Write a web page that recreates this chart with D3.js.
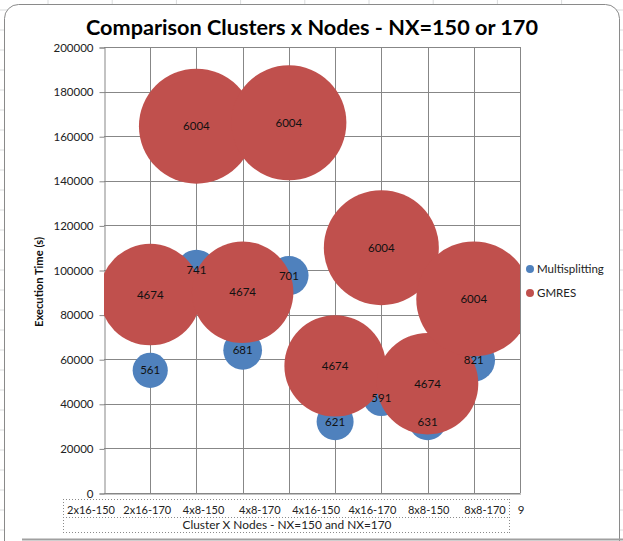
<!DOCTYPE html>
<html><head><meta charset="utf-8">
<script src="https://cdn.jsdelivr.net/npm/d3@7"></script>
<style>
body{margin:0;background:#fff;}
svg{display:block;}
text{font-family:Lato,"Open Sans",sans-serif;}
</style></head>
<body>
<svg id="chart" width="623" height="541"></svg>
<script>
// ---- data ----
const xPositions = [1,2,3,4,5,6,7,8];
const categories = ["2x16-150","2x16-170","4x8-150","4x8-170","4x16-150","4x16-170","8x8-150","8x8-170"];
const multiTime = [55000,100000,64000,97500,32000,42600,32000,59500];
const multiSize = [561,741,681,701,621,591,631,821];
const gmresTime = [89000,164500,90000,166000,57000,110000,49000,87000];
const gmresSize = [4674,6004,4674,6004,4674,6004,4674,6004];
const yTicks = [0,20000,40000,60000,80000,100000,120000,140000,160000,180000,200000];
const xTicks = [0,1,2,3,4,5,6,7,8,9];
const xVisibleTickLabels = [9];
const seriesNames = ["Multisplitting","GMRES"];
const colors = ["#4F81BD","#C0504D"];

const svg = d3.select("#chart");

// spreadsheet background grid
const bg = svg.append("g");
for (let x = 48; x < 623; x += 64.2) bg.append("line").attr("x1",x).attr("x2",x).attr("y1",0).attr("y2",541).attr("stroke","#dadcdd");
for (let y = 10; y < 541; y += 20) bg.append("line").attr("x1",0).attr("x2",623).attr("y1",y).attr("y2",y).attr("stroke","#dadcdd");

// chart area
svg.append("rect").attr("x",4.5).attr("y",4.5).attr("width",615).attr("height",560).attr("rx",14)
  .attr("fill","#fff").attr("stroke","#8a8a8a");
svg.append("line").attr("x1",22).attr("x2",623).attr("y1",539.5).attr("y2",539.5).attr("stroke","#a0a0a0").attr("stroke-width",2);

const x = d3.scaleLinear().domain([0,9]).range([104,520]);
const y = d3.scaleLinear().domain([0,200000]).range([493,47]);
const r = d3.scaleSqrt().domain([0,6004]).range([0,57.5]);

// gridlines
const grid = svg.append("g").attr("stroke","#878787").attr("stroke-width",1);
yTicks.forEach(t => grid.append("line").attr("x1",x(0)).attr("x2",x(9)).attr("y1",Math.round(y(t))+0.5).attr("y2",Math.round(y(t))+0.5));
xTicks.slice(1).forEach(t => grid.append("line").attr("x1",Math.round(x(t))+0.5).attr("x2",Math.round(x(t))+0.5).attr("y1",y(200000)).attr("y2",y(0)));

// axes
const yAxis = svg.append("g").attr("transform",`translate(${Math.round(x(0))+0.5},0.5)`)
  .call(d3.axisLeft(y).tickValues(yTicks).tickSize(5).tickPadding(6).tickFormat(d3.format("d")));
yAxis.select(".domain").attr("stroke","#878787");
yAxis.selectAll(".tick line").attr("stroke","#878787");
yAxis.selectAll("text").attr("font-size",11.5).attr("fill","#222").attr("font-family","Lato");

const xAxis = svg.append("g").attr("transform",`translate(0.5,${Math.round(y(0))+0.5})`)
  .call(d3.axisBottom(x).tickValues(xVisibleTickLabels).tickSize(0).tickPadding(12).tickFormat(d3.format("d")));
xAxis.select(".domain").attr("stroke","#878787");
xAxis.selectAll("text").attr("font-size",11.5).attr("fill","#222").attr("font-family","Lato");

// bubbles
svg.append("clipPath").attr("id","plotclip").append("rect")
  .attr("x",x(0)).attr("y",y(200000)).attr("width",x(9)-x(0)).attr("height",y(0)-y(200000));
const plot = svg.append("g").attr("clip-path","url(#plotclip)");
const series = [
  xPositions.map((p,i)=>({x:p,y:multiTime[i],s:multiSize[i]})),
  xPositions.map((p,i)=>({x:p,y:gmresTime[i],s:gmresSize[i]}))
];
series.forEach((d,k)=>{
  plot.selectAll(null).data(d).enter().append("circle")
    .attr("cx",v=>x(v.x)).attr("cy",v=>y(v.y)).attr("r",v=>r(v.s)).attr("fill",colors[k]);
});
series.forEach(d=>{
  svg.selectAll(null).data(d).enter().append("text")
    .attr("x",v=>x(v.x)).attr("y",v=>y(v.y)).attr("dy","0.35em").attr("text-anchor","middle")
    .attr("font-size",11.5).attr("fill","#111").text(v=>v.s);
});

// text box with category labels
const tb = svg.append("g");
tb.append("rect").attr("x",63).attr("y",499).attr("width",447).attr("height",34).attr("fill","#fff");
[[63,499.5,510,499.5],[63,517.5,510,517.5],[63,532.5,510,532.5],[63.5,499,63.5,533],[509.5,499,509.5,533]].forEach(l=>{
  tb.append("line").attr("x1",l[0]).attr("y1",l[1]).attr("x2",l[2]).attr("y2",l[3]).attr("stroke","#8a8a8a").attr("stroke-dasharray","1,2");
});
const cx = d3.scalePoint().domain(categories).range([91,485]);
tb.selectAll(null).data(categories).enter().append("text")
  .attr("x",d=>cx(d)).attr("y",510).attr("dy","0.35em").attr("text-anchor","middle")
  .attr("font-size",11).attr("fill","#222").text(d=>d);
tb.append("text").attr("x",287).attr("y",525).attr("dy","0.35em").attr("text-anchor","middle")
  .attr("font-size",12).attr("fill","#222").attr("textLength",209).attr("lengthAdjust","spacingAndGlyphs")
  .text("Cluster X Nodes - NX=150 and NX=170");

// y axis title
svg.append("text").attr("transform","translate(39,282) rotate(-90)").attr("text-anchor","middle").attr("dy","0.35em")
  .attr("font-size",11).attr("font-weight","bold").attr("fill","#111").attr("textLength",90).attr("lengthAdjust","spacingAndGlyphs")
  .text("Execution Time (s)");

// title
svg.append("text").attr("x",312).attr("y",35).attr("text-anchor","middle")
  .attr("font-size",21).attr("font-weight","bold").attr("fill","#000").attr("textLength",452).attr("lengthAdjust","spacingAndGlyphs")
  .text("Comparison Clusters x Nodes - NX=150 or 170");

// legend
seriesNames.forEach((n,i)=>{
  const ly = 269 + i*24;
  svg.append("circle").attr("cx",530).attr("cy",ly).attr("r",4).attr("fill",colors[i]);
  svg.append("text").attr("x",537).attr("y",ly).attr("dy","0.35em").attr("font-size",11.5).attr("fill","#222").text(n);
});
</script>
</body></html>
